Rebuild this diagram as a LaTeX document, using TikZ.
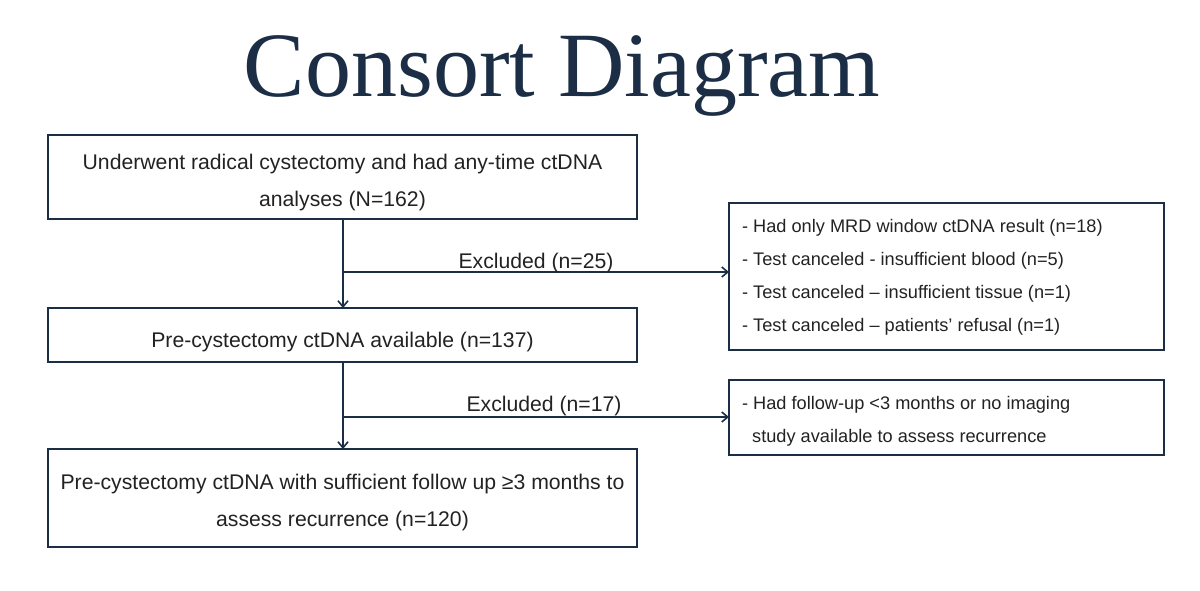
\documentclass[tikz,border=0pt]{standalone}
\usepackage{fontspec}
\setmainfont{Liberation Sans}
\newfontfamily\titlefont{Liberation Serif}
\usetikzlibrary{arrows.meta}
\definecolor{navy}{HTML}{1B2E45}
\definecolor{txt}{HTML}{222222}
\begin{document}
\begin{tikzpicture}[x=0.5pt,y=-0.5pt,
  box/.style={draw=navy,line width=0.7pt},
  main/.style={font=\fontsize{10.6}{18.5}\selectfont,text=txt,align=center},
  side/.style={font=\fontsize{9.1}{16.5}\selectfont,text=txt,align=left,anchor=west},
  conn/.style={draw=navy,line width=0.8pt},
  arr/.style={conn,-{Straight Barb[length=3pt,width=5pt]}}]
\useasboundingbox (0,0) rectangle (1200,590);
\node[font=\titlefont\fontsize{46}{50}\selectfont,text=navy] (title) at (562,76) {Consort Diagram};
\draw[box] (48,135) rectangle (637,219);
\node[main] (b1) at (342.5,183) {Underwent radical cystectomy and had any-time ctDNA\\analyses (N=162)};
\draw[box] (48,308) rectangle (637,362);
\node[main] (b2) at (342.5,342) {Pre-cystectomy ctDNA available (n=137)};
\draw[box] (48,449) rectangle (637,547);
\node[main] (b3) at (342.5,503) {Pre-cystectomy ctDNA with sufficient follow up ≥3 months to\\assess recurrence (n=120)};
\draw[box] (729,203) rectangle (1164,350);
\node[side] (r1) at (735,277) {- Had only MRD window ctDNA result (n=18)\\- Test canceled - insufficient blood (n=5)\\- Test canceled – insufficient tissue (n=1)\\- Test canceled – patients' refusal (n=1)};
\draw[box] (729,380) rectangle (1164,455);
\node[side] (r2) at (735,421) {- Had follow-up <3 months or no imaging\\\ \ study available to assess recurrence};
\coordinate (j1) at (343,272);
\coordinate (e1) at (729,272);
\coordinate (j2) at (343,417);
\coordinate (e2) at (729,417);
\draw[arr] (343,219) -- (343,308);
\draw[arr] (j1) -- (e1);
\node[main] (x1) at (536,263) {Excluded (n=25)};
\draw[arr] (343,362) -- (343,449);
\draw[arr] (j2) -- (e2);
\node[main] (x2) at (544,406) {Excluded (n=17)};
\end{tikzpicture}
\end{document}
